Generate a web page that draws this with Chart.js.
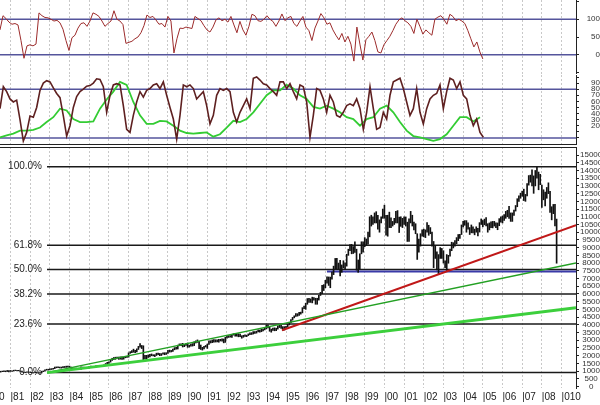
<!DOCTYPE html>
<html>
<head>
<meta charset="utf-8">
<script src="https://cdn.jsdelivr.net/npm/chart.js@4.4.1/dist/chart.umd.min.js"></script>
<style>
    html, body { margin: 0; padding: 0; background: #fff; overflow: hidden; }
    body { width: 600px; height: 405px; position: relative; }
    canvas { position: absolute; left: -10px; }
    #osc { top: 0; }
    #stoch { top: 75px; }
    #price { top: 147px; }
</style>
</head>
<body>
<canvas id="osc" width="610" height="74"></canvas>
<canvas id="stoch" width="610" height="70"></canvas>
<canvas id="price" width="610" height="258"></canvas>
<script>
// time axis (decimal years)
const X_MIN = 1979.958;
const X_MAX = 2009.735;
const yearTicks = [1980, 1981, 1982, 1983, 1984, 1985, 1986, 1987, 1988, 1989, 1990, 1991, 1992, 1993, 1994,
    1995, 1996, 1997, 1998, 1999, 2000, 2001, 2002, 2003, 2004, 2005, 2006, 2007, 2008, 2009];
const yearLabels = ['|80', '|81', '|82', '|83', '|84', '|85', '|86', '|87', '|88', '|89', '|90', '|91', '|92', '|93', '|94',
    '|95', '|96', '|97', '|98', '|99', '|00', '|01', '|02', '|03', '|04', '|05', '|06', '|07', '|08', '|010'];

// top oscillator, one reading every ~8 weeks from the left edge
const OSC_X0 = 1980.466;
const OSC_STEP = 0.1524;
const oscValues = [
    70, 110, 102, 92, 86, 88, 84, 40, -10, 25,
    28, 25, 30, 118, 110, 105, 104, 100, 95, 97,
    90, 72, 40, 12, 48, 55, 75, 88, 90, 80,
    95, 118, 114, 108, 95, 80, 88, 95, 124, 100,
    95, 85, 32, 35, 38, 45, 50, 62, 82, 112,
    105, 108, 98, 86, 88, 78, 108, 95, 5, 45,
    75, 74, 78, 76, 74, 108, 102, 96, 82, 70,
    64, 78, 98, 104, 96, 100, 92, 108, 84, 62,
    94, 70, 55, 80, 114, 110, 96, 94, 100, 110,
    100, 94, 80, 95, 115, 96, 104, 108, 88, 80,
    95, 108, 78, 68, 40, 75, 95, 116, 104, 86,
    90, 70, 55, 42, 60, 36, 52, 30, -18, 78,
    30, -15, 42, 52, 64, 40, 8, 5, 28, 40,
    52, 68, 86, 98, 104, 96, 90, 80, 60, 100,
    80, 58, 70, 62, 55, 100, 106, 110, 100, 86,
    114, 108, 96, 100, 95, 88, 68, 45, 22, 36,
    8, -12
];
const oscTicks = [-50, 0, 50, 100, 150];
const oscTickLabels = ['', '0', '50', '100', ''];
const oscLevels = [100, 0];

// stochastic panel
const STOCH_X0 = 1980.466;
const STOCH_STEP = 0.16938;
const stochK = [
    48, 84, 76, 64, 59, 62, 30, -5, 9, 36,
    34, 50, 78, 90, 94, 92, 82, 73, 66, 36,
    3, 20, 50, 68, 76, 80, 85, 86, 90, 97,
    96, 84, 42, 70, 87, 89, 87, 53, 14, 9,
    37, 59, 76, 67, 78, 81, 87, 89, 81, 92,
    70, 50, 31, -2, 37, 87, 84, 87, 81, 64,
    70, 76, 53, 23, 37, 70, 81, 78, 81, 76,
    42, 26, 42, 53, 64, 48, 98, 100, 95, 89,
    87, 81, 76, 70, 92, 92, 81, 89, 76, 64,
    87, 84, 59, 1, 37, 81, 78, 64, 42, 70,
    59, 37, 34, 42, 53, 56, 53, 64, 48, 14,
    42, 84, 48, 14, 17, 42, 31, 70, 92, 95,
    98, 81, 59, 37, 48, 81, 42, 23, 48, 64,
    70, 73, 87, 48, 76, 98, 95, 81, 92, 70,
    64, 37, 20, 31, 9, 1
];
const GREEN_STEP = 0.33875;
const stochSlow = [
    1, 4, 7, 12, 12, 13, 17, 26, 34, 48,
    45, 31, 26, 26, 27, 48, 63, 76, 92, 87,
    59, 37, 23, 23, 28, 27, 20, 12, 8, 7,
    8, 9, 2, 6, 17, 28, 26, 31, 42, 56,
    70, 78, 78, 87, 81, 70, 64, 51, 48, 53,
    48, 42, 34, 31, 20, 31, 34, 48, 53, 42,
    26, 12, 3, 1, -2, -5, -2, 6, 20, 34,
    34, 27, 34
];
const stochTicks = [0, 10, 20, 30, 40, 50, 60, 70, 80, 90, 100];
const stochTickLabels = ['', '', '20', '30', '40', '50', '60', '70', '80', '90', ''];
const stochLevels = [80, 0];

// monthly price ranges, June 1980 to October 2008
const PRICE_X0 = 1980 + 5 / 12;
const priceLow = [
    900, 930, 960, 960, 955, 970, 950,
    980, 975, 1000, 1030, 1010, 1015, 975, 930, 890, 900, 920, 920,
    900, 880, 870, 900, 880, 860, 865, 880, 960, 990, 1060, 1060,
    1080, 1100, 1120, 1160, 1210, 1220, 1200, 1190, 1220, 1230, 1240, 1250,
    1230, 1150, 1150, 1150, 1110, 1110, 1100, 1110, 1200, 1190, 1180, 1180,
    1200, 1270, 1260, 1260, 1250, 1310, 1330, 1320, 1310, 1330, 1380, 1460,
    1500, 1580, 1690, 1750, 1760, 1840, 1760, 1770, 1760, 1770, 1860, 1890,
    1900, 2150, 2200, 2220, 2200, 2240, 2400, 2550, 2460, 1740, 1790, 1760,
    1880, 1920, 1990, 1980, 1940, 2010, 2070, 2000, 2010, 2100, 2060, 2080,
    2140, 2230, 2240, 2280, 2380, 2420, 2430, 2640, 2640, 2560, 2580, 2660,
    2540, 2550, 2620, 2620, 2650, 2820, 2860, 2460, 2400, 2360, 2430, 2560,
    2470, 2720, 2820, 2840, 2870, 2880, 2890, 2870, 2950, 2940, 2830, 2860,
    3130, 3180, 3200, 3180, 3330, 3260, 3260, 3220, 3230, 3130, 3190, 3240,
    3230, 3300, 3360, 3370, 3400, 3440, 3460, 3530, 3520, 3550, 3600, 3670,
    3730, 3800, 3580, 3520, 3630, 3610, 3620, 3720, 3820, 3760, 3640, 3660,
    3820, 3850, 3990, 4140, 4300, 4450, 4550, 4560, 4600, 4690, 4770, 5050,
    5000, 5330, 5450, 5450, 5420, 5600, 5330, 5330, 5600, 5900, 6010, 6220,
    6400, 6700, 6550, 6400, 6950, 7250, 7630, 7600, 7600, 7160, 7400, 7680,
    7580, 7800, 8500, 8800, 8600, 8620, 8690, 7540, 7400, 7630, 8600, 8700,
    9060, 9140, 9220, 9700, 10400, 10500, 10600, 10600, 10200, 10000, 10600, 10900,
    10900, 9800, 9740, 10300, 10300, 10400, 10500, 10600, 10600, 9980, 10380, 10300,
    10500, 10400, 9400, 9400, 10600, 10400, 10150, 9900, 8235, 8700, 9100, 9750,
    9700, 9650, 10000, 9800, 9900, 9100, 7700, 8300, 7550, 7280, 8300, 8300,
    8000, 7700, 7520, 7990, 8450, 8800, 8980, 9100, 9250, 9450, 9600, 9850,
    10350, 10450, 10000, 10200, 9850, 9960, 9960, 9830, 10000, 9760, 10010, 10500,
    10350, 10480, 10400, 10000, 10150, 10300, 10280, 10400, 10300, 10160, 10420, 10650,
    10600, 10760, 10900, 11000, 10900, 10700, 10700, 11080, 11370, 11650, 12000, 12200,
    12330, 12050, 12000, 12350, 13050, 13240, 13000, 12520, 13000, 13500, 12750, 13080,
    11600, 12100, 11700, 12200, 12500, 11290, 10800, 11200, 10400, 7990
];
const priceHigh = [
    930, 990, 1000, 1010, 1010, 1040, 1030,
    1040, 1020, 1055, 1065, 1045, 1050, 1010, 1000, 930, 930, 945, 950,
    940, 920, 905, 925, 925, 900, 905, 990, 1010, 1080, 1120, 1120,
    1140, 1160, 1180, 1260, 1270, 1280, 1260, 1260, 1290, 1300, 1320, 1320,
    1320, 1260, 1200, 1200, 1200, 1170, 1160, 1280, 1260, 1250, 1250, 1240,
    1300, 1320, 1310, 1310, 1340, 1360, 1380, 1370, 1360, 1400, 1490, 1570,
    1600, 1730, 1830, 1880, 1900, 1900, 1910, 1920, 1920, 1890, 1950, 1960,
    2180, 2260, 2330, 2420, 2350, 2440, 2600, 2780, 2660, 2640, 2020, 2020,
    2050, 2090, 2110, 2060, 2060, 2160, 2160, 2140, 2130, 2190, 2190, 2190,
    2350, 2360, 2340, 2430, 2520, 2540, 2680, 2760, 2760, 2800, 2720, 2780,
    2820, 2680, 2750, 2780, 2900, 2960, 3020, 2920, 2690, 2540, 2600, 2660,
    2750, 2960, 2970, 3020, 3040, 3030, 3030, 3060, 3060, 3090, 3080, 3190,
    3290, 3300, 3300, 3380, 3420, 3420, 3420, 3420, 3390, 3290, 3320, 3350,
    3330, 3410, 3480, 3490, 3560, 3560, 3590, 3670, 3660, 3720, 3720, 3800,
    3990, 3990, 3850, 3720, 3780, 3800, 3780, 3930, 3970, 3960, 3880, 3880,
    3900, 4030, 4170, 4340, 4480, 4580, 4730, 4720, 4800, 4820, 5110, 5220,
    5400, 5700, 5720, 5680, 5790, 5770, 5720, 5720, 5910, 6100, 6560, 6600,
    6880, 7110, 7100, 7090, 7420, 7800, 8300, 8300, 8000, 8180, 7880, 8150,
    8010, 8570, 8900, 9200, 9210, 9070, 9370, 8900, 8200, 8600, 9380, 9380,
    9650, 9560, 10000, 11000, 11100, 11000, 11250, 11330, 11100, 10800, 11000, 11500,
    11750, 11100, 11100, 11300, 10930, 10700, 10900, 11350, 11400, 10980, 11000, 10900,
    11000, 10990, 10650, 10860, 11350, 11100, 10650, 10550, 9900, 9550, 9900, 10150,
    10200, 10150, 10630, 10450, 10300, 10000, 9400, 9100, 8720, 8550, 9000, 8950,
    8800, 8150, 8550, 8500, 8900, 9350, 9320, 9450, 9650, 9850, 9870, 10470,
    10700, 10750, 10750, 10600, 10300, 10470, 10350, 10200, 10350, 10250, 10620, 10860,
    10760, 10850, 10950, 10550, 10600, 10670, 10700, 10700, 10600, 10600, 10880, 10990,
    11050, 11150, 11350, 11420, 11670, 11250, 11250, 11430, 11730, 12170, 12360, 12530,
    12660, 12790, 12450, 13150, 13670, 13700, 14050, 13650, 14000, 14200, 13900, 13750,
    13060, 12750, 12600, 12900, 13200, 12650, 11650, 11800, 11800, 10850
];
const priceTicks = [0, 500, 1000, 1500, 2000, 2500, 3000, 3500, 4000, 4500, 5000, 5500, 6000, 6500, 7000, 7500,
    8000, 8500, 9000, 9500, 10000, 10500, 11000, 11500, 12000, 12500, 13000, 13500, 14000, 14500, 15000];

// retracement and trend lines
const FIB_START = 1982.855;
const fibLow = 900;
const fibHigh = 14250;
const fibRatios = [0, 0.236, 0.382, 0.5, 0.618, 1];
const fibLabels = ['0.0%', '23.6%', '38.2%', '50.0%', '61.8%', '100.0%'];
const supportStart = 1997.08;
const supportLevel = 7450;
const redTrend = [[1994.8, 3650], [X_MAX, 10460]];
const thinGreenTrend = [[FIB_START, 900], [X_MAX, 8000]];
const thickGreenTrend = [[FIB_START, 900], [X_MAX, 5100]];

const FONT = 'Liberation Sans, Arial, sans-serif';

class DowPanels {
    constructor() {
        this.charts = [];
        this.init();
    }

    init() {
        this.charts.push(this.buildOscillator());
        this.charts.push(this.buildStochastic());
        this.charts.push(this.buildPrice());
    }

    xScale(showLabels) {
        return {
            type: 'linear',
            min: X_MIN,
            max: X_MAX,
            offset: false,
            afterBuildTicks: axis => { axis.ticks = yearTicks.map(v => ({ value: v })); },
            afterFit: axis => {
                axis.height = showLabels ? 17 : 0;
                axis.paddingLeft = 0;
                axis.paddingRight = 0;
            },
            grid: { color: '#c8c8c8', lineWidth: 1, drawTicks: false, offset: false, borderDash: [2, 2] },
            border: { display: false, dash: [2, 2] },
            ticks: {
                display: showLabels,
                autoSkip: false,
                maxRotation: 0,
                align: 'start',
                padding: 3,
                color: '#222',
                font: { family: FONT, size: 10 },
                callback: v => yearLabels[yearTicks.indexOf(v)] || ''
            }
        };
    }

    yScale(min, max, ticks, labels, crossAlign) {
        return {
            position: 'right',
            min: min,
            max: max,
            beginAtZero: false,
            afterBuildTicks: axis => { axis.ticks = ticks.map(v => ({ value: v })); },
            afterFit: axis => {
                axis.width = 24;
                axis.paddingTop = 0;
                axis.paddingBottom = 0;
            },
            grid: { drawOnChartArea: false, drawTicks: true, tickLength: 3, color: '#222' },
            border: { display: true, color: '#222', width: 1 },
            ticks: {
                autoSkip: false,
                padding: 1,
                crossAlign: crossAlign,
                color: '#333',
                font: { family: FONT, size: 8 },
                callback: v => labels[ticks.indexOf(v)]
            }
        };
    }

    baseOptions(scales) {
        return {
            responsive: false,
            animation: false,
            events: [],
            layout: { padding: 0 },
            plugins: { legend: { display: false }, tooltip: { enabled: false } },
            scales: scales
        };
    }

    levelLine(x0, x1, y, color, width, order) {
        return {
            type: 'line',
            data: [{ x: x0, y: y }, { x: x1, y: y }],
            borderColor: color,
            borderWidth: width,
            pointRadius: 0,
            order: order
        };
    }

    buildOscillator() {
        const datasets = oscLevels.map(v => this.levelLine(X_MIN, X_MAX, v, '#55559c', 1.5, 2));
        datasets.push({
            type: 'line',
            data: oscValues.map((v, i) => ({ x: OSC_X0 + i * OSC_STEP, y: v })),
            borderColor: '#9c2b2b',
            borderWidth: 1,
            pointRadius: 0,
            order: 1
        });
        return new Chart(document.getElementById('osc'), {
            type: 'line',
            data: { datasets },
            options: this.baseOptions({
                x: this.xScale(false),
                y: this.yScale(-54.3, 154.3, oscTicks, oscTickLabels, 'far')
            })
        });
    }

    buildStochastic() {
        const datasets = stochLevels.map(v => this.levelLine(X_MIN, X_MAX, v, '#55559c', 1.5, 3));
        datasets.push({
            type: 'line',
            data: stochSlow.map((v, i) => ({ x: STOCH_X0 + i * GREEN_STEP, y: v })),
            borderColor: '#33cc33',
            borderWidth: 1.8,
            pointRadius: 0,
            order: 2
        });
        datasets.push({
            type: 'line',
            data: stochK.map((v, i) => ({ x: STOCH_X0 + i * STOCH_STEP, y: v })),
            borderColor: '#5e2020',
            borderWidth: 1.6,
            pointRadius: 0,
            order: 1
        });
        const bottomRule = {
            id: 'bottomRule',
            afterDraw(chart) {
                const { ctx, chartArea } = chart;
                ctx.save();
                ctx.strokeStyle = '#222';
                ctx.lineWidth = 1;
                ctx.beginPath();
                ctx.moveTo(chartArea.left, chartArea.bottom - 0.5);
                ctx.lineTo(chartArea.right, chartArea.bottom - 0.5);
                ctx.stroke();
                ctx.restore();
            }
        };
        return new Chart(document.getElementById('stoch'), {
            type: 'line',
            data: { datasets },
            options: this.baseOptions({
                x: this.xScale(false),
                y: this.yScale(-11.7, 103.3, stochTicks, stochTickLabels, 'far')
            }),
            plugins: [bottomRule]
        });
    }

    buildPrice() {
        const fibValues = fibRatios.map(r => fibLow + r * (fibHigh - fibLow));
        const datasets = fibValues.map(v => this.levelLine(FIB_START, X_MAX, v, '#1a1a1a', 1.5, 5));
        datasets.push(this.levelLine(supportStart, X_MAX, supportLevel, '#3a3aa8', 2, 4));
        datasets.push({
            type: 'bar',
            data: priceLow.map((lo, i) => ({ x: PRICE_X0 + i / 12, y: [lo, priceHigh[i]] })),
            backgroundColor: '#111',
            barThickness: 1,
            grouped: false,
            order: 3
        });
        const trend = (pts, color, width) => ({
            type: 'line',
            data: pts.map(p => ({ x: p[0], y: p[1] })),
            borderColor: color,
            borderWidth: width,
            pointRadius: 0,
            order: 1
        });
        datasets.push(trend(thickGreenTrend, '#3ccf3c', 3));
        datasets.push(trend(thinGreenTrend, '#23a023', 1.5));
        datasets.push(trend(redTrend, '#c01818', 2));

        const fibText = {
            id: 'fibText',
            afterDraw(chart) {
                const { ctx, chartArea, scales } = chart;
                ctx.save();
                ctx.strokeStyle = '#222';
                ctx.lineWidth = 1;
                ctx.beginPath();
                ctx.moveTo(chartArea.left, chartArea.top + 0.5);
                ctx.lineTo(chartArea.right, chartArea.top + 0.5);
                ctx.stroke();
                ctx.font = '10px ' + FONT;
                ctx.fillStyle = '#222';
                ctx.textAlign = 'right';
                ctx.textBaseline = 'middle';
                const right = scales.x.getPixelForValue(FIB_START) - 5;
                fibValues.forEach((v, i) => {
                    ctx.fillText(fibLabels[i], right, scales.y.getPixelForValue(v));
                });
                ctx.restore();
            }
        };
        return new Chart(document.getElementById('price'), {
            type: 'bar',
            data: { datasets },
            options: this.baseOptions({
                x: this.xScale(true),
                y: this.yScale(-97, 15522, priceTicks, priceTicks.map(String), 'center')
            }),
            plugins: [fibText]
        });
    }
}

document.addEventListener('DOMContentLoaded', () => {
    new DowPanels();
});
</script>
</body>
</html>
